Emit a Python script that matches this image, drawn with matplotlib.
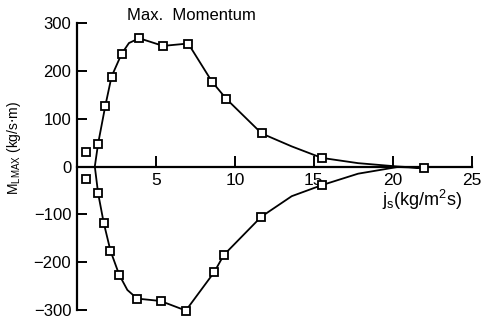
import matplotlib
matplotlib.use('Agg')
import matplotlib.pyplot as plt
from matplotlib import rcParams

rcParams['font.family'] = ['Liberation Sans', 'DejaVu Sans']

# measured maximum momentum, positive and negative branches
js_up = [1.35, 1.8, 2.2, 2.83, 3.95, 5.46, 7.05, 8.56, 9.47, 11.7, 15.5]
m_up = [48, 126, 188, 235, 268, 252, 257, 177, 141, 69, 18]
js_down = [1.35, 1.7, 2.13, 2.68, 3.82, 5.3, 6.9, 8.69, 9.3, 11.67, 15.5]
m_down = [-56, -117, -176, -226, -276, -281, -301, -221, -185, -105, -39]
# points not on the fitted curve
js_extra = [0.6, 0.6, 22]
m_extra = [30, -27, -3]

# hand-drawn curve through the data
curve_js = [22, 20.3, 17.8, 15.5, 13.6, 11.7, 9.47, 8.56, 7.05, 5.46, 3.95, 3.3,
            2.83, 2.2, 1.8, 1.35, 1.14, 1.35, 1.7, 2.13, 2.68, 3.2, 3.82, 5.3,
            6.9, 8.69, 9.3, 11.67, 13.6, 15.5, 17.8, 20.3, 22]
curve_m = [-3, 0, 7, 18, 42, 69, 141, 177, 257, 252, 268, 258,
           235, 188, 126, 48, 0, -56, -117, -176, -226, -258, -276, -281,
           -301, -221, -185, -105, -62, -39, -15, -1, -3]

fig = plt.figure(figsize=(4.86, 3.23), dpi=100)
ax = fig.add_axes([0.158, 0.040, 0.813, 0.889])

ax.plot(curve_js, curve_m, color='black', lw=1.3, zorder=2)
mk = dict(ls='none', marker='s', ms=5.5, mfc='white', mec='black', mew=1.3,
          clip_on=False, zorder=3)
ax.plot(js_up, m_up, **mk)
ax.plot(js_down, m_down, **mk)
ax.plot(js_extra, m_extra, **mk)

ax.set_xlim(0, 25)
ax.set_ylim(-300, 300)
ax.spines['top'].set_visible(False)
ax.spines['right'].set_visible(False)
ax.spines['bottom'].set_position(('data', 0))
ax.spines['left'].set_linewidth(1.6)
ax.spines['bottom'].set_linewidth(1.6)

ax.set_xticks([0, 5, 10, 15, 20, 25])
ax.set_xticklabels(['', '5', '10', '15', '20', '25'])
ax.set_yticks([-300, -200, -100, 0, 100, 200, 300])
ax.tick_params(axis='x', direction='in', length=8, width=1.4, labelsize=12.5, pad=5)
ax.tick_params(axis='y', direction='in', length=7, width=1.4, labelsize=12, pad=4)

ax.set_ylabel(r'M$_{\mathregular{LMAX}}$ (kg/s$\cdot$m)', fontsize=10, labelpad=2)
ax.yaxis.set_label_coords(-0.135, 0.565)
ax.text(19.3, -69, r'j$_{\mathregular{s}}$(kg/m$^{\mathregular{2}}$s)', fontsize=13,
        ha='left', va='center')
fig.text(0.393, 0.953, 'Max.  Momentum', fontsize=12, ha='center', va='center')

plt.savefig('out.png', dpi=100)
